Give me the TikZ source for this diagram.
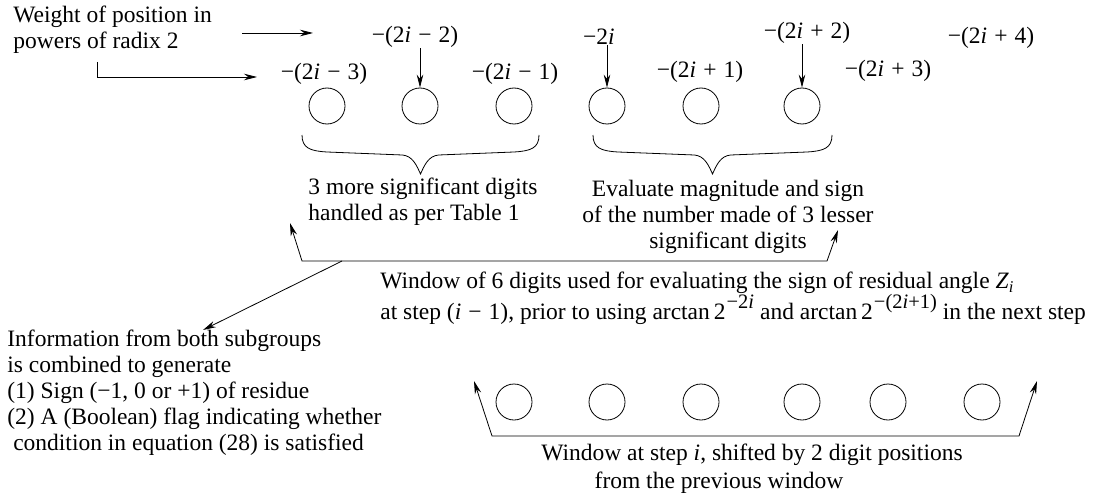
\documentclass[tikz,border=0pt]{standalone}
\usepackage{fontspec}
\setmainfont{Liberation Serif}
\usetikzlibrary{arrows.meta}
\newcommand\ii{\textit{i}}
\newcommand\mn{\kern0.3em−\kern0.3em}
\newcommand\pl{\kern0.3em+\kern0.3em}
\newcommand\supx[1]{\kern1pt\raisebox{0.45em}{\fontsize{20.5}{20.5}\selectfont #1}\kern6pt}
\newcommand\digitbrace[2]{%
  \pgfmathsetmacro\bmid{(#1+#2)/2}%
  \draw (#1,135) .. controls (#1,148) and (#1+8,151) .. (#1+25,152) -- (\bmid-18,155)
    .. controls (\bmid-8,156) and (\bmid-4,165) .. (\bmid,174)
    .. controls (\bmid+4,165) and (\bmid+8,156) .. (\bmid+18,155) -- (#2-25,152)
    .. controls (#2-8,151) and (#2,148) .. (#2,135);}
\begin{document}
\begin{tikzpicture}[x=1pt,y=-1pt,line width=0.8pt,
  txt/.style={inner sep=0pt,font=\fontsize{23.5}{26}\selectfont},
  digit/.style={draw,circle,minimum size=36pt,inner sep=0pt},
  arr/.style={-{Stealth[length=13pt,width=6.5pt]}},
  twoarr/.style={{Stealth[length=13pt,width=6.5pt]}-{Stealth[length=13pt,width=6.5pt]}}]
\useasboundingbox (0,0) rectangle (1108,500);

% top row of digits
\foreach \n/\x in {1/327,2/420,3/514,4/607,5/701,6/802}
  \node[digit] (c\n) at (\x,106) {};

% weight labels
\node[txt] (w3) at (324,74) {−(2\ii\mn 3)};
\node[txt] (w2) at (415,37) {−(2\ii\mn 2)};
\node[txt] (w1) at (515,74) {−(2\ii\mn 1)};
\node[txt] (w0) at (599,37) {−2\ii};
\node[txt] (p1) at (700,72) {−(2\ii\pl 1)};
\node[txt] (p2) at (807,33) {−(2\ii\pl 2)};
\node[txt] (p3) at (888,71) {−(2\ii\pl 3)};
\node[txt] (p4) at (991,38) {−(2\ii\pl 4)};

\draw[arr] (w2.south -| c2) -- (c2.north);
\draw[arr] (w0.south -| c4) -- (c4.north);
\draw[arr] (p2.south -| c6) -- (c6.north);

% weight explanation
\node[txt,align=left,anchor=west] (wt) at (13,30) {Weight of position in\\powers of radix 2};
\coordinate (a1s) at (242,33);
\coordinate (a1e) at (313,33);
\draw[arr] (a1s) -- (a1e);
\coordinate (a2s) at (97,62);
\coordinate (a2e) at (257,77);
\draw[arr] (a2s) |- (a2e);

% braces
\digitbrace{302}{539}
\digitbrace{593}{832}
\node[txt,align=left,anchor=west] (t1) at (308,202) {3 more significant digits\\handled as per Table 1};
\node[txt,align=center] (t2) at (728,217) {Evaluate magnitude and sign\\of the number made of 3 lesser\\significant digits};

% window of previous step
\coordinate (wla) at (290,223);
\coordinate (wlc) at (302,261);
\coordinate (wrc) at (827,261);
\coordinate (wra) at (838,230);
\draw[twoarr] (wla) -- (wlc) -- (wrc) -- (wra);
\coordinate (ds) at (342,261);
\coordinate (de) at (203,330);
\draw[arr] (ds) -- (de);

\node[txt,align=left,anchor=west] (wtxt) at (380,298) {Window of 6 digits used for evaluating the sign of residual angle \textit{Z}\textsubscript{\textit{i}}\\at step (\ii\mn 1), prior to using arctan\,2\supx{−2\ii}and arctan\,2\supx{−(2\ii+1)}in the next step};

\node[txt,align=left,anchor=west] (info) at (7,393) {Information from both subgroups\\is combined to generate\\(1) Sign (−1, 0 or +1) of residue\\(2) A (Boolean) flag indicating whether\\\hspace*{0.25em}condition in equation (28) is satisfied};

% bottom row of digits
\foreach \n/\x in {1/514,2/607,3/701,4/802,5/888,6/982}
  \node[digit] (d\n) at (\x,402) {};
\coordinate (bla) at (474,381);
\coordinate (blc) at (492,436);
\coordinate (brc) at (1019,436);
\coordinate (bra) at (1037,381);
\draw[twoarr] (bla) -- (blc) -- (brc) -- (bra);
\node[txt] (b1) at (752,455) {Window at step \ii, shifted by 2 digit positions};
\node[txt] (b2) at (719,483) {from the previous window};
\end{tikzpicture}
\end{document}
